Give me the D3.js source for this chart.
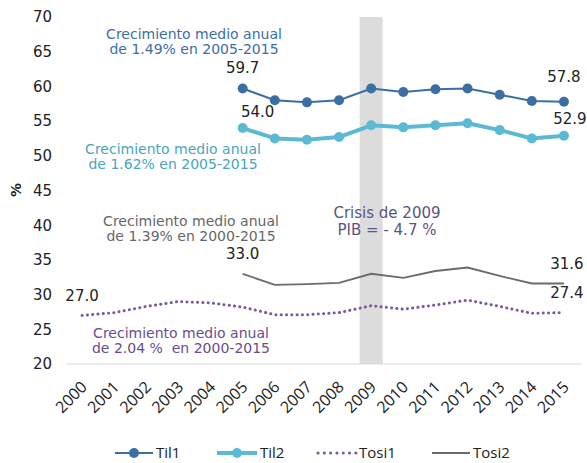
<!DOCTYPE html>
<html><head><meta charset="utf-8">
<script src="https://cdn.jsdelivr.net/npm/d3@7"></script>
<style>body{margin:0;background:#fff}svg{display:block}</style>
</head><body><svg id="c" width="587" height="463"></svg>
<script>
const years = ["2000","2001","2002","2003","2004","2005","2006","2007","2008","2009","2010","2011","2012","2013","2014","2015"];
const til1 = [null,null,null,null,null,59.7,58.0,57.7,58.0,59.7,59.2,59.6,59.7,58.8,57.9,57.8];
const til2 = [null,null,null,null,null,54.0,52.5,52.3,52.7,54.4,54.1,54.4,54.7,53.7,52.5,52.9];
const tosi1 = [27.0,27.4,28.3,29.0,28.8,28.2,27.1,27.1,27.4,28.4,27.9,28.5,29.2,28.3,27.3,27.4];
const tosi2 = [null,null,null,null,null,33.0,31.4,31.5,31.7,33.0,32.4,33.4,33.9,32.7,31.6,31.6];
const yTicks = [20,25,30,35,40,45,50,55,60,65,70];
const seriesNames = ["Til1","Til2","Tosi1","Tosi2"];

const svg = d3.select("#c");
const x = d3.scaleBand().domain(years).range([66,580]);
const cx = d => x(d) + x.bandwidth()/2;
const y = d3.scaleLinear().domain([20,70]).range([364,17]);
const sans = "DejaVu Sans, Verdana, sans-serif";
const sans2 = "'Open Sans', 'Liberation Sans', sans-serif";

// crisis band
svg.append("rect").attr("x", cx("2009")-11.5).attr("width",23)
  .attr("y", y(70)).attr("height", y(20)-y(70)).attr("fill","#dcdcdc");

// axis line
svg.append("line").attr("x1",66).attr("x2",581).attr("y1",y(20)).attr("y2",y(20))
  .attr("stroke","#d9d9d9").attr("stroke-width",1);

// y ticks
const yAxis = d3.axisLeft(y).tickValues(yTicks).tickSize(0).tickPadding(0);
const ga = svg.append("g").attr("transform","translate(52,0)").call(yAxis);
ga.select(".domain").remove();
ga.selectAll("text").attr("font-family",sans).attr("font-size",15).attr("fill","#222");

svg.append("text").attr("transform","translate(21,190) rotate(-90)").attr("text-anchor","middle")
  .attr("font-family",sans).attr("font-weight","bold").attr("font-size",14).attr("fill","#222").text("%");

// x ticks
const xAxis = d3.axisBottom(x).tickSize(0).tickPadding(0);
const gx = svg.append("g").attr("transform",`translate(0,${y(20)})`).call(xAxis);
gx.select(".domain").remove();
gx.selectAll("text").attr("font-family",sans2).attr("font-size",16).attr("fill","#222")
  .attr("text-anchor","end").attr("dy",0).attr("y",0)
  .attr("transform","translate(6,24) rotate(-45)");

const line = d3.line().defined(d=>d.v!=null).x(d=>cx(d.k)).y(d=>y(d.v));
const toPts = arr => years.map((k,i)=>({k, v:arr[i]}));

// Tosi2
svg.append("path").datum(toPts(tosi2)).attr("d",line).attr("fill","none")
  .attr("stroke","#6b6b6b").attr("stroke-width",1.8);
// Tosi1
svg.append("path").datum(toPts(tosi1)).attr("d",line).attr("fill","none")
  .attr("stroke","#7a5a9c").attr("stroke-width",3).attr("stroke-dasharray","0.1,5.2").attr("stroke-linecap","round");
// Til2
svg.append("path").datum(toPts(til2)).attr("d",line).attr("fill","none")
  .attr("stroke","#5bbad3").attr("stroke-width",4).attr("stroke-linejoin","round");
svg.append("g").selectAll("circle").data(toPts(til2).filter(d=>d.v!=null)).join("circle")
  .attr("cx",d=>cx(d.k)).attr("cy",d=>y(d.v)).attr("r",5).attr("fill","#5bbad3");
// Til1
svg.append("path").datum(toPts(til1)).attr("d",line).attr("fill","none")
  .attr("stroke","#3c6ea5").attr("stroke-width",2);
svg.append("g").selectAll("circle").data(toPts(til1).filter(d=>d.v!=null)).join("circle")
  .attr("cx",d=>cx(d.k)).attr("cy",d=>y(d.v)).attr("r",5).attr("fill","#3c6ea5");

// value labels
const fmt = d3.format(".1f");
const lbl = (txt,xx,yy,anchor)=>svg.append("text").attr("x",xx).attr("y",yy).attr("text-anchor",anchor||"middle")
  .attr("font-family",sans).attr("font-size",15).attr("fill","#222").text(txt);
lbl(fmt(til1[5]), cx("2005"), y(til1[5])-15);
lbl(fmt(til1[15]), cx("2015"), y(til1[15])-20);
lbl(fmt(til2[5]), cx("2005")+15, y(til2[5])-11);
lbl(fmt(til2[15]), cx("2015")+6, y(til2[15])-12);
lbl(fmt(tosi2[5]), cx("2005"), y(tosi2[5])-15);
lbl(fmt(tosi1[0]), cx("2000"), y(tosi1[0])-14);
lbl(fmt(tosi2[15]), cx("2015")+3, y(tosi2[15])-14);
lbl(fmt(tosi1[15]), cx("2015")+3, y(tosi1[15])-15);

// annotations
const ann = (lines,xx,yy,color,size)=>{
  const t = svg.append("text").attr("text-anchor","middle").attr("font-family",sans)
    .attr("font-size",size||14).attr("fill",color).style("white-space","pre");
  lines.forEach((s,i)=>t.append("tspan").attr("x",xx).attr("y",yy+i*(size?size+2:15)).text(s));
};
ann(["Crecimiento medio anual","de 1.49% en 2005-2015"],194,39,"#3c6ea5");
ann(["Crecimiento medio anual","de 1.62% en 2005-2015"],173,154,"#4aa5bd");
ann(["Crecimiento medio anual","de 1.39% en 2000-2015"],191,226,"#666666");
ann(["Crecimiento medio anual","de 2.04 %  en 2000-2015"],181,338,"#6a4c8c");
ann(["Crisis de 2009","PIB = - 4.7 %"],387,218,"#5a5585",15);

// legend
const lg = svg.append("g").attr("font-family",sans2).attr("font-size",15).attr("fill","#222");
const ly = 453;
const items = [
  {n:seriesNames[0],x1:115,x2:153,c:"#3c6ea5",w:2,m:true},
  {n:seriesNames[1],x1:217,x2:257,c:"#5bbad3",w:4,m:true},
  {n:seriesNames[2],x1:318,x2:356,c:"#7a5a9c",w:3,dash:"0.1,6.2"},
  {n:seriesNames[3],x1:432,x2:470,c:"#6b6b6b",w:1.8}
];
items.forEach(it=>{
  const l = lg.append("line").attr("x1",it.x1).attr("x2",it.x2).attr("y1",ly).attr("y2",ly)
    .attr("stroke",it.c).attr("stroke-width",it.w);
  if(it.dash) l.attr("stroke-dasharray",it.dash).attr("stroke-linecap","round");
  if(it.m) lg.append("circle").attr("cx",(it.x1+it.x2)/2).attr("cy",ly).attr("r",5).attr("fill",it.c);
  lg.append("text").attr("x",it.x2+3).attr("y",ly+5).text(it.n);
});
</script></body></html>
